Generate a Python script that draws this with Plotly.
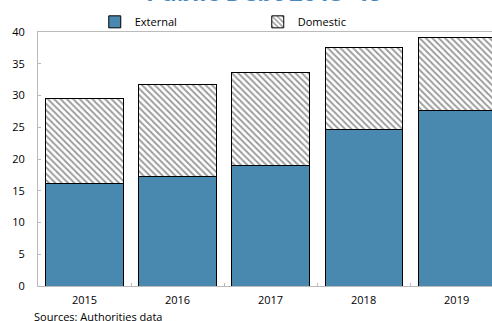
import plotly.graph_objects as go

years = ["2015", "2016", "2017", "2018", "2019"]
external = [16.2, 17.3, 18.9, 24.7, 27.7]
domestic = [13.4, 14.5, 14.8, 12.9, 11.5]
y_ticks = [0, 5, 10, 15, 20, 25, 30, 35, 40]

font = "Open Sans"
fig = go.Figure()
fig.add_trace(go.Bar(
    x=years, y=external, name="External",
    marker=dict(color="#4A89AF", line=dict(color="black", width=1)),
    width=0.83,
))
fig.add_trace(go.Bar(
    x=years, y=domestic, name="Domestic",
    marker=dict(color="white", line=dict(color="black", width=1),
                pattern=dict(shape="\\", fgcolor="#333333", bgcolor="white",
                             size=4.5, solidity=0.4)),
    width=0.83,
))

fig.update_layout(
    barmode="stack",
    width=492, height=321,
    margin=dict(l=38, r=0, t=32, b=35),
    paper_bgcolor="white", plot_bgcolor="white",
    font=dict(family=font, size=11, color="black"),
    showlegend=True,
    legend=dict(orientation="h", x=0.125, y=1.04, xanchor="left", yanchor="middle",
                entrywidth=118, entrywidthmode="pixels", traceorder="normal",
                font=dict(size=11), itemwidth=30,
                bgcolor="rgba(0,0,0,0)"),
    xaxis=dict(type="category", range=[-0.5, 4.38], showline=True,
               linecolor="#BBBBBB", linewidth=1, mirror=True,
               ticks="inside", tickson="boundaries", ticklen=3, tickcolor="#BBBBBB",
               showgrid=False, tickfont=dict(size=11), ticklabelstandoff=4),
    yaxis=dict(range=[0, 40], tickvals=y_ticks, showline=True,
               linecolor="#BBBBBB", linewidth=1, ticks="inside", ticklen=3,
               tickcolor="#BBBBBB", showgrid=False, zeroline=False,
               tickfont=dict(size=11), ticklabelstandoff=10),
    annotations=[
        dict(text="<b>Public Debt 2015–19</b>", xref="paper", yref="paper",
             x=0.498, y=1.085, xanchor="center", yanchor="bottom", showarrow=False,
             font=dict(family=font, size=24, color="#4A89BE")),
        dict(text="Sources: Authorities data", xref="paper", yref="paper",
             x=-0.013, y=-0.12, xanchor="left", yanchor="middle", showarrow=False,
             font=dict(family=font, size=11)),
    ],
)
fig.write_html("out.html")
